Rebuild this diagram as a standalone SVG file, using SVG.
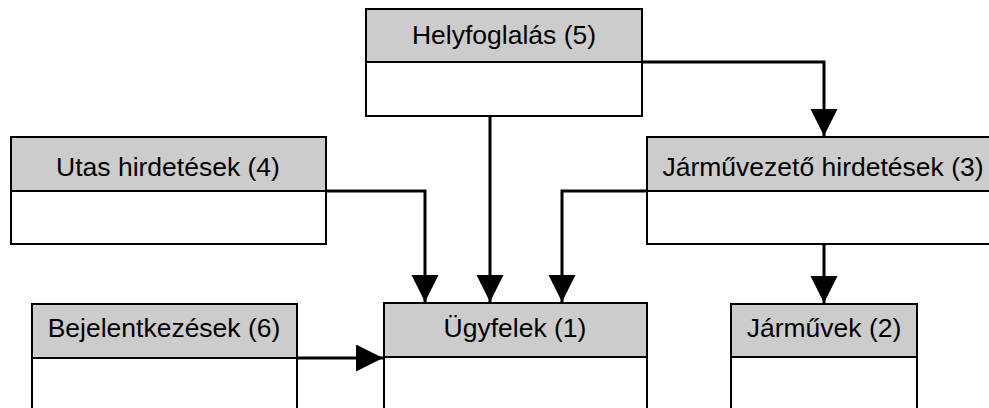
<svg xmlns="http://www.w3.org/2000/svg" width="989" height="408" viewBox="0 0 989 408">
  <style>
    .hdr { fill: #cccccc; stroke: #000; stroke-width: 2; }
    .body { fill: #ffffff; stroke: #000; stroke-width: 2; }
    .lbl { font-family: "Liberation Sans", Arial, sans-serif; font-size: 26.5px; fill: #000; text-anchor: middle; }
    .conn { fill: none; stroke: #000; stroke-width: 3; }
  </style>
  <defs>
    <marker id="arrow" markerUnits="userSpaceOnUse" markerWidth="28" markerHeight="28" refX="27" refY="13.5" orient="auto">
      <path d="M0,0 L27,13.5 L0,27 Z" fill="#000"/>
    </marker>
  </defs>

  <rect width="989" height="408" fill="#fff"/>

  <!-- tables -->
  <g id="helyfoglalas">
    <rect class="body" x="366" y="62" width="276" height="54"/>
    <rect class="hdr" x="366" y="9" width="276" height="53"/>
    <text class="lbl" x="504" y="44">Helyfoglalás (5)</text>
  </g>

  <g id="utas-hirdetesek">
    <rect class="body" x="11" y="191" width="315" height="53"/>
    <rect class="hdr" x="11" y="137" width="315" height="54"/>
    <text class="lbl" x="168" y="176">Utas hirdetések (4)</text>
  </g>

  <g id="jarmuvezeto-hirdetesek">
    <rect class="body" x="647" y="191" width="354" height="53"/>
    <rect class="hdr" x="647" y="137" width="354" height="54"/>
    <text class="lbl" x="823" y="176">Járművezető hirdetések (3)</text>
  </g>

  <g id="bejelentkezesek">
    <rect class="body" x="32" y="358" width="265" height="60"/>
    <rect class="hdr" x="32" y="304" width="265" height="54"/>
    <text class="lbl" x="164" y="337">Bejelentkezések (6)</text>
  </g>

  <g id="ugyfelek">
    <rect class="body" x="384" y="357" width="263" height="60"/>
    <rect class="hdr" x="384" y="303" width="263" height="54"/>
    <text class="lbl" x="515" y="337">Ügyfelek (1)</text>
  </g>

  <g id="jarmuvek">
    <rect class="body" x="731" y="357" width="186" height="60"/>
    <rect class="hdr" x="731" y="304" width="186" height="53"/>
    <text class="lbl" x="824" y="337">Járművek (2)</text>
  </g>

  <!-- relationships -->
  <g id="connectors">
    <path class="conn" d="M642,62 H824 V136" marker-end="url(#arrow)"/>
    <path class="conn" d="M490,116 V302" marker-end="url(#arrow)"/>
    <path class="conn" d="M326,191 H425 V302" marker-end="url(#arrow)"/>
    <path class="conn" d="M647,191 H562 V302" marker-end="url(#arrow)"/>
    <path class="conn" d="M824,244 V303" marker-end="url(#arrow)"/>
    <path class="conn" d="M297,358 H383" marker-end="url(#arrow)"/>
  </g>
</svg>
